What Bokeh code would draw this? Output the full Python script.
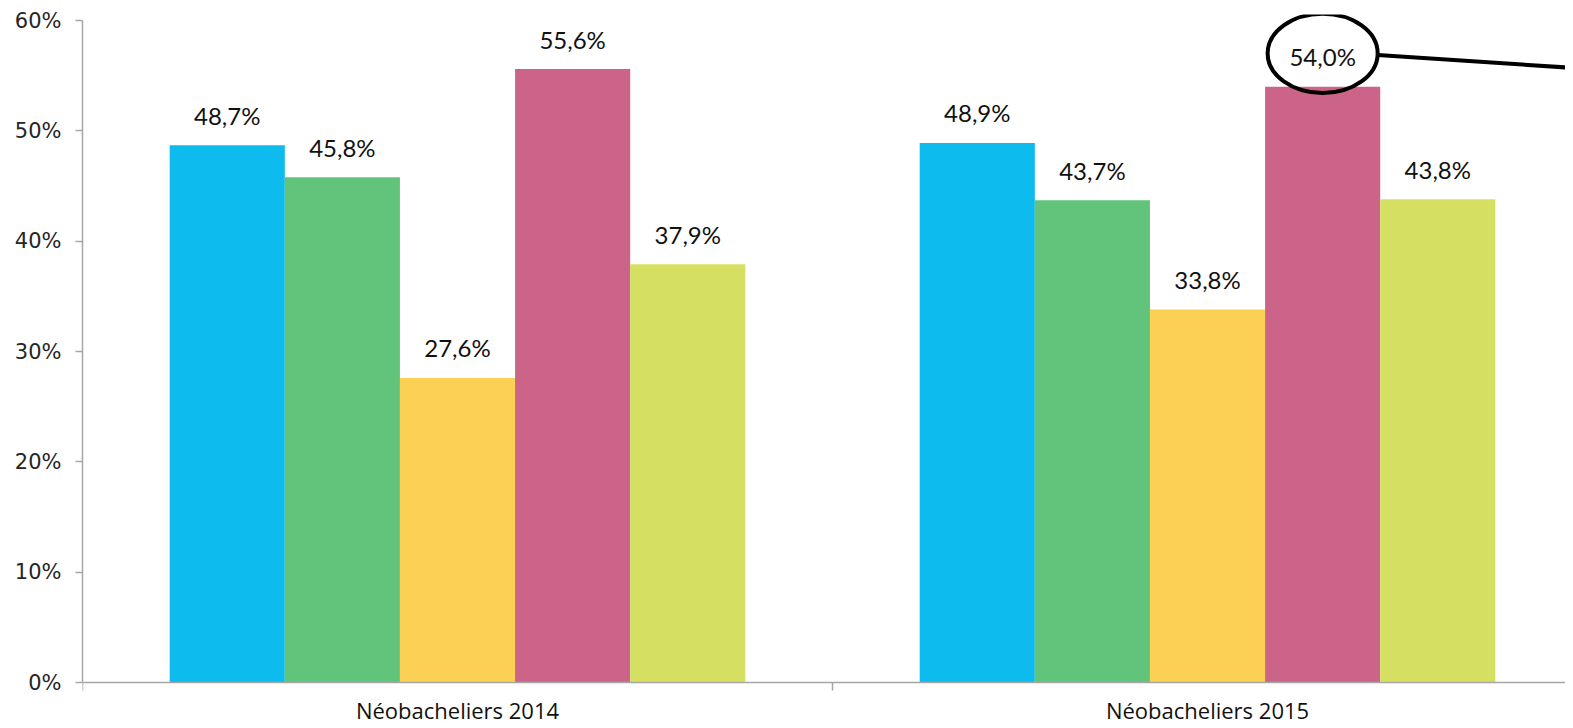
from bokeh.plotting import figure
from bokeh.models import ColumnDataSource, Range1d, FixedTicker, Span
from bokeh.core.properties import value
from bokeh.embed import file_html
from bokeh.resources import INLINE

# ---- data ----
categories = ["Néobacheliers 2014", "Néobacheliers 2015"]
series_colors = ["#0DBBEE", "#62C47A", "#FCD055", "#CC6389", "#D5E063"]
values_2014 = [48.7, 45.8, 27.6, 55.6, 37.9]
values_2015 = [48.9, 43.7, 33.8, 54.0, 43.8]
y_ticks = [0, 10, 20, 30, 40, 50, 60]
y_tick_labels = ["0%", "10%", "20%", "30%", "40%", "50%", "60%"]
highlight_category = 1
highlight_series = 3

# ---- layout constants ----
bar_w = 0.1535
x_end = 1.9773
y_start, y_end = -3.444, 60.544
tick_len = 0.725   # category boundary tick length (y units, ~8px)
all_values = [values_2014, values_2015]
axis_grey = "#A6A6A6"

xs, tops, colors, labels = [], [], [], []
for ci, vals in enumerate(all_values):
    for si, v in enumerate(vals):
        xs.append(ci + 0.5 + (si - 2) * bar_w)
        tops.append(v)
        colors.append(series_colors[si])
        labels.append(f"{v:.1f}%".replace(".", ","))

src = ColumnDataSource(dict(x=xs, top=tops, color=colors, label=labels))

p = figure(width=1565, height=720, output_backend="svg", toolbar_location=None,
           x_range=Range1d(0, x_end), y_range=Range1d(y_start, y_end),
           x_axis_location=None,
           min_border_left=82, min_border_right=0, min_border_top=14,
           min_border_bottom=0)
p.outline_line_color = None
p.grid.visible = False
p.background_fill_color = "white"

p.vbar(x="x", top="top", width=bar_w, bottom=0, fill_color="color",
       line_color=None, source=src)

# category axis: baseline, boundary ticks and category names
p.add_layout(Span(location=0, dimension="width", line_color=axis_grey,
                  line_width=1.5))
bounds_x = list(range(len(categories) + 1))
p.segment(x0=bounds_x, y0=[0] * len(bounds_x), x1=bounds_x,
          y1=[-tick_len] * len(bounds_x), line_color=axis_grey, line_width=1.5)
cat_x = [ci + 0.5 for ci in range(len(categories))]
p.text(x=cat_x, y=[0] * len(cat_x), text=categories, text_align="center",
       text_baseline="middle", y_offset=27, text_font=value("Open Sans"),
       text_font_size="22px", text_color="#111111")

# highlight annotation (ellipse around the value label, and a pointer line)
hx = highlight_category + 0.5 + (highlight_series - 2) * bar_w
hv = all_values[highlight_category][highlight_series]
ell_w, ell_h = 0.1467, 7.17
ell_cy = hv + 3.02
p.ellipse(x=[hx], y=[ell_cy], width=ell_w, height=ell_h, fill_alpha=0,
          line_color="black", line_width=4)
p.line(x=[hx + ell_w / 2, 1.988], y=[ell_cy - 0.14, ell_cy - 1.32],
       line_color="black", line_width=4)

p.text(x="x", y="top", text="label", source=src, text_align="center",
       text_baseline="alphabetic", y_offset=-30, text_font=value("Lato"),
       text_font_size="24px", text_color="#111111")

# y axis
ya = p.yaxis[0]
ya.ticker = FixedTicker(ticks=y_ticks)
ya.bounds = (0, 60)
ya.major_label_overrides = {t: l for t, l in zip(y_ticks, y_tick_labels)}
ya.axis_line_color = axis_grey
ya.axis_line_width = 1.5
ya.major_tick_line_color = axis_grey
ya.major_tick_line_width = 1.5
ya.major_tick_out = 7
ya.major_tick_in = 0
ya.minor_tick_line_color = None
ya.major_label_standoff = 14
ya.major_label_text_font = "DejaVu Sans"
ya.major_label_text_font_size = "21px"
ya.major_label_text_color = "#262626"

open("out.html", "w").write(file_html(p, INLINE))
